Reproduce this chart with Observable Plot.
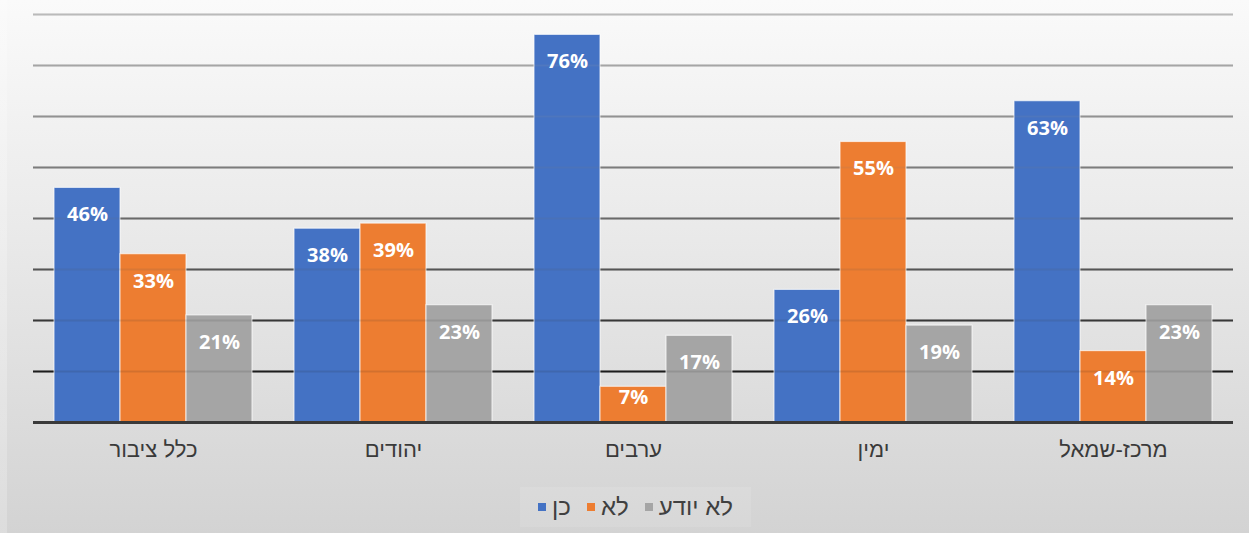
<!DOCTYPE html>
<html>
<head>
<meta charset="utf-8">
<script src="https://cdn.jsdelivr.net/npm/d3@7"></script>
<script src="https://cdn.jsdelivr.net/npm/@observablehq/plot@0.6"></script>
<style>
  html, body { margin: 0; padding: 0; }
  #wrap {
    width: 1249px; height: 533px; position: relative; overflow: hidden;
    background:
      linear-gradient(to right, rgba(255,255,255,0.22) 0 7px, transparent 7px),
      linear-gradient(180deg, #fafafa 0%, #e9e9e9 45%, #d3d3d3 100%);
  }
  #legend {
    height: 53px; display: flex; align-items: center; justify-content: center;
    font-family: "Liberation Sans", "DejaVu Sans", sans-serif; font-size: 24px; color: #404040;
    margin-left: 22px;
  }
  #legend .item { display: flex; align-items: center; margin: 0 8px; }
  #legend .sw { width: 8px; height: 8px; margin-right: 6px; }
  #legend-box { padding: 6px 10px; background: rgba(255,255,255,0.1); display: flex; }
</style>
</head>
<body>
<div id="wrap">
  <div id="chart"></div>
  <div id="legend"><div id="legend-box"></div></div>
</div>
<script>
const groups = ["כלל ציבור", "יהודים", "ערבים", "ימין", "מרכז-שמאל"];
const series = ["כן", "לא", "לא יודע"];
const yesValues = [46, 38, 76, 26, 63];
const noValues = [33, 39, 7, 55, 14];
const dontKnowValues = [21, 23, 17, 19, 23];
const gridTicks = [10, 20, 30, 40, 50, 60, 70, 80];
const colors = ["#4472C4", "#ED7D31", "#A5A5A5"];

const seriesValues = [yesValues, noValues, dontKnowValues];
const table = [];
groups.forEach((g, gi) => {
  series.forEach((s, si) => {
    table.push({group: g, series: s, value: seriesValues[si][gi]});
  });
});

const gridColor = d3.scaleLinear().domain([10, 30, 80]).range(["#1c1c1c", "#555555", "#bababa"]);

const chart = Plot.plot({
  width: 1249,
  height: 480,
  marginTop: 14,
  marginBottom: 58,
  marginLeft: 33,
  marginRight: 16,
  style: {background: "transparent", fontFamily: "Liberation Sans, DejaVu Sans, sans-serif", fontSize: "22px", color: "#3a3a3a"},
  fx: {domain: groups, padding: 0, label: null, axis: "bottom", tickSize: 0, tickPadding: 19},
  x: {domain: series, paddingInner: 0, paddingOuter: 0.318, axis: null},
  y: {domain: [0, 80], axis: null},
  color: {domain: series, range: colors},
  marks: [
    Plot.ruleY(gridTicks, {y: d => d, stroke: d => gridColor(d), strokeWidth: 1.8}),
    Plot.barY(table, {fx: "group", x: "series", y: "value", fill: "series", stroke: "white", strokeOpacity: 0.65, strokeWidth: 1.2}),
    Plot.ruleY(gridTicks, {y: d => d, stroke: d => gridColor(d), strokeWidth: 1.8, strokeOpacity: 0.13}),
    Plot.ruleY([0], {stroke: "#3a3a3a", strokeWidth: 3}),
    Plot.text(table.filter(d => d.value >= 10), {fx: "group", x: "series", y: "value", text: d => d.value + "%", dy: 27, fill: "white", fontWeight: "bold", fontSize: 20, fontFamily: "Open Sans, Noto Sans, sans-serif"}),
    Plot.text(table.filter(d => d.value < 10), {fx: "group", x: "series", y: "value", text: d => d.value + "%", dy: 11, fill: "white", fontWeight: "bold", fontSize: 20, fontFamily: "Open Sans, Noto Sans, sans-serif"})
  ]
});
document.getElementById("chart").appendChild(chart);

const box = document.getElementById("legend-box");
series.forEach((s, i) => {
  const item = document.createElement("div");
  item.className = "item";
  const sw = document.createElement("span");
  sw.className = "sw";
  sw.style.background = colors[i];
  const t = document.createElement("span");
  t.textContent = s;
  t.dir = "rtl";
  item.appendChild(sw);
  item.appendChild(t);
  box.appendChild(item);
});
</script>
</body>
</html>
